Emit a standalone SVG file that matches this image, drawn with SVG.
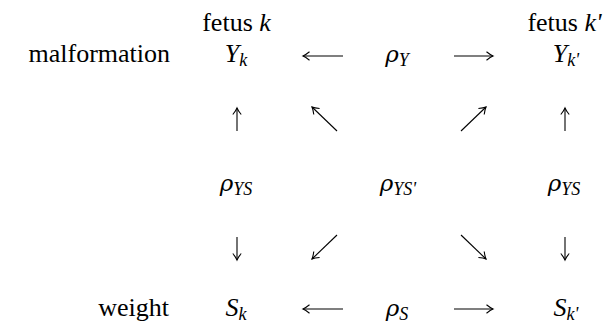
<svg xmlns="http://www.w3.org/2000/svg" width="610" height="333" viewBox="0 0 610 333">
<defs>
<marker id="head" viewBox="-9 -6 11 12" markerWidth="11" markerHeight="12" refX="0" refY="0" orient="auto" markerUnits="userSpaceOnUse">
<path d="M-6.5,-4.2 Q-2.5,-1 0,0 Q-2.5,1 -6.5,4.2" fill="none" stroke="#000" stroke-width="1.1"/>
</marker>
</defs>
<rect width="610" height="333" fill="#fff"/>
<g id="label-fetus-k"><text font-family="Liberation Serif" font-size="26" text-anchor="middle" x="236.5" y="31">fetus <tspan font-style="italic">k</tspan></text></g>
<g id="label-fetus-kp"><text font-family="Liberation Serif" font-size="26" text-anchor="middle" x="564.5" y="31">fetus <tspan font-style="italic">k'</tspan></text></g>
<g id="label-malformation"><text font-family="Liberation Serif" font-size="26" text-anchor="end" x="170" y="62">malformation</text></g>
<g id="label-weight"><text font-family="Liberation Serif" font-size="26" text-anchor="end" x="169" y="316">weight</text></g>
<g id="node-Yk"><text font-family="Liberation Serif" font-size="26" text-anchor="middle" x="236" y="62" font-style="italic">Y<tspan font-size="18" dy="4">k</tspan></text></g>
<g id="node-rhoY"><text font-family="Liberation Serif" font-size="26" text-anchor="middle" x="397" y="62" font-style="italic"><tspan font-family="DejaVu Serif" font-size="23">ρ</tspan><tspan font-size="18" dy="4">Y</tspan></text></g>
<g id="node-Ykp"><text font-family="Liberation Serif" font-size="26" text-anchor="middle" x="566" y="62" font-style="italic">Y<tspan font-size="18" dy="4">k'</tspan></text></g>
<g id="node-rhoYS-left"><text font-family="Liberation Serif" font-size="26" text-anchor="middle" x="236" y="191" font-style="italic"><tspan font-family="DejaVu Serif" font-size="23">ρ</tspan><tspan font-size="18" dy="4">YS</tspan></text></g>
<g id="node-rhoYSp"><text font-family="Liberation Serif" font-size="26" text-anchor="middle" x="398" y="191" font-style="italic"><tspan font-family="DejaVu Serif" font-size="23">ρ</tspan><tspan font-size="18" dy="4">YS'</tspan></text></g>
<g id="node-rhoYS-right"><text font-family="Liberation Serif" font-size="26" text-anchor="middle" x="564" y="191" font-style="italic"><tspan font-family="DejaVu Serif" font-size="23">ρ</tspan><tspan font-size="18" dy="4">YS</tspan></text></g>
<g id="node-Sk"><text font-family="Liberation Serif" font-size="26" text-anchor="middle" x="236" y="316" font-style="italic">S<tspan font-size="18" dy="4">k</tspan></text></g>
<g id="node-rhoS"><text font-family="Liberation Serif" font-size="26" text-anchor="middle" x="397" y="316" font-style="italic"><tspan font-family="DejaVu Serif" font-size="23">ρ</tspan><tspan font-size="18" dy="4">S</tspan></text></g>
<g id="node-Skp"><text font-family="Liberation Serif" font-size="26" text-anchor="middle" x="566" y="316" font-style="italic">S<tspan font-size="18" dy="4">k'</tspan></text></g>
<g id="connectors" stroke="#000" stroke-width="1.1" fill="none" marker-end="url(#head)">
<path d="M343,56 H303"/>
<path d="M454,56 H493"/>
<path d="M343,309 H303"/>
<path d="M454,309 H493"/>
<path d="M237,131 V108"/>
<path d="M565,131 V108"/>
<path d="M337,131 L312,107"/>
<path d="M461,131 L486,107"/>
<path d="M237,237 V260"/>
<path d="M565,237 V260"/>
<path d="M337,235 L312,259"/>
<path d="M461,235 L486,259"/>
</g>
</svg>
